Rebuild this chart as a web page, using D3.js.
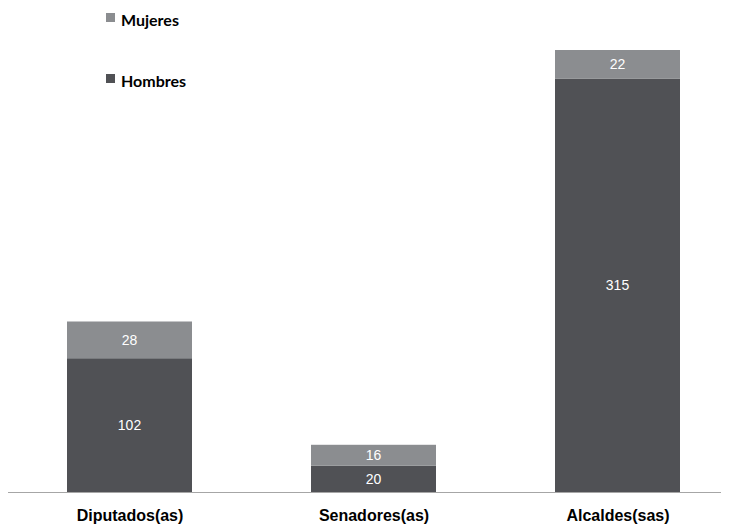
<!DOCTYPE html>
<html><head><meta charset="utf-8">
<script src="https://cdn.jsdelivr.net/npm/d3@7"></script>
<style>body{margin:0;background:#fff}svg{display:block}</style>
</head><body>
<script>
const categories = ["Diputados(as)", "Senadores(as)", "Alcaldes(sas)"];
const hombres = [102, 20, 315];
const mujeres = [28, 16, 22];
const seriesNames = ["Hombres", "Mujeres"];
const colors = {Hombres: "#505155", Mujeres: "#8b8d90"};

const W = 729, H = 525;
const svg = d3.select("body").append("svg").attr("width", W).attr("height", H);

const bw = 125;
const x0 = d3.scalePoint().domain(categories).range([129.5, 617.5]);
const y = d3.scaleLinear().domain([0, 337]).range([492, 50]);

const data = categories.map((c, i) => ({cat: c, Hombres: hombres[i], Mujeres: mujeres[i]}));
const stacked = d3.stack().keys(seriesNames)(data);

stacked.forEach(layer => {
  const g = svg.append("g");
  g.selectAll("rect").data(layer).enter().append("rect")
    .attr("x", d => x0(d.data.cat) - bw / 2)
    .attr("width", bw)
    .attr("y", d => y(d[1]))
    .attr("height", d => y(d[0]) - y(d[1]))
    .attr("fill", colors[layer.key]);
  g.selectAll("text").data(layer).enter().append("text")
    .attr("x", d => x0(d.data.cat))
    .attr("y", d => (y(d[0]) + y(d[1])) / 2)
    .attr("dy", "0.35em")
    .attr("text-anchor", "middle")
    .attr("fill", "#fff")
    .attr("font-family", "Liberation Sans, Arial, sans-serif")
    .attr("font-size", 14)
    .text(d => d.data[layer.key]);
});

// axis
const axis = d3.axisBottom(x0).tickSize(0).tickPadding(0);
const ax = svg.append("g").attr("transform", `translate(0,492)`).call(axis);
ax.select(".domain").attr("d", "M8,0.5H721").attr("stroke", "#a6a6a6").attr("stroke-width", 1.2);
ax.selectAll("text")
  .attr("y", 29).attr("dy", null)
  .attr("font-family", "Liberation Sans, Arial, sans-serif")
  .attr("font-size", 16)
  .attr("font-weight", "bold")
  .attr("fill", "#000");

// legend
const legend = [{name: "Mujeres", y: 26}, {name: "Hombres", y: 87}];
const lg = svg.selectAll("g.leg").data(legend).enter().append("g").attr("class", "leg");
lg.append("rect").attr("x", 106).attr("y", d => d.y - 13).attr("width", 9).attr("height", 9)
  .attr("fill", d => colors[d.name]);
lg.append("text").attr("x", 121).attr("y", d => d.y)
  .attr("font-family", "Lato, Carlito, sans-serif").attr("font-weight", "bold").attr("font-size", 16)
  .attr("fill", "#000").text(d => d.name);
</script>
</body></html>
